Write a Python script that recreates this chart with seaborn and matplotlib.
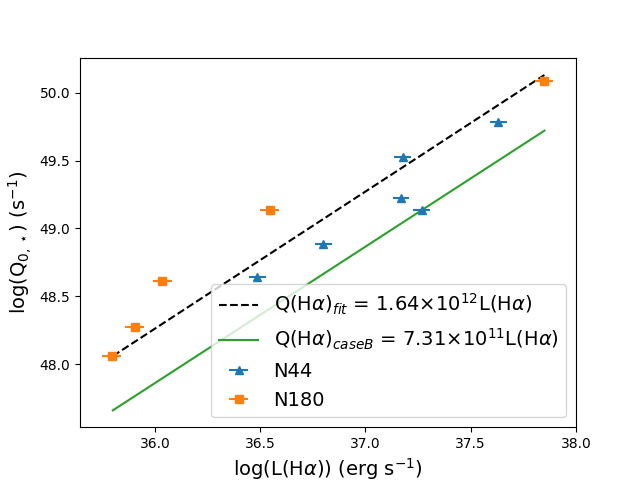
import matplotlib
matplotlib.use("Agg")
import matplotlib.pyplot as plt
import pandas as pd
import seaborn as sns

# N44 regions
n44_logL = [36.486, 36.80, 37.169, 37.177, 37.268, 37.631]
n44_logQ = [48.643, 48.882, 49.225, 49.528, 49.135, 49.783]
n44_xerr = [0.04, 0.04, 0.04, 0.04, 0.04, 0.04]

# N180 regions
n180_logL = [35.795, 35.905, 36.035, 36.546, 37.848]
n180_logQ = [48.06, 48.275, 48.61, 49.135, 50.083]
n180_xerr = [0.045, 0.045, 0.045, 0.045, 0.045]

# relation end points
fit_logL = [35.8, 37.85]
fit_logQ = [48.06, 50.13]
caseb_logL = [35.8, 37.85]
caseb_logQ = [47.66, 49.72]


def main():
    fig, ax = plt.subplots(figsize=(6.4, 4.8), dpi=100)

    fit = pd.DataFrame({'logL': fit_logL, 'logQ': fit_logQ})
    caseb = pd.DataFrame({'logL': caseb_logL, 'logQ': caseb_logQ})

    sns.lineplot(data=fit, x='logL', y='logQ', ax=ax, color='black',
                 linestyle='--',
                 label=r'Q(H$\alpha$)$_{fit}$ = 1.64$\times$10$^{12}$L(H$\alpha$)')
    sns.lineplot(data=caseb, x='logL', y='logQ', ax=ax, color='C2',
                 label=r'Q(H$\alpha$)$_{caseB}$ = 7.31$\times$10$^{11}$L(H$\alpha$)')

    ax.errorbar(n44_logL, n44_logQ, xerr=n44_xerr, fmt='^', color='C0',
                markersize=6, label='N44')
    ax.errorbar(n180_logL, n180_logQ, xerr=n180_xerr, fmt='s', color='C1',
                markersize=6, label='N180')

    ax.set_xlim(35.644, 38.0)
    ax.set_ylim(47.536, 50.258)
    ax.set_xlabel(r'log(L(H$\alpha$)) (erg s$^{-1}$)', fontsize=14)
    ax.set_ylabel(r'log(Q$_{0,\star}$) (s$^{-1}$)', fontsize=14)
    ax.legend(loc='lower right', fontsize=14)

    fig.savefig('out.png', dpi=100)


if __name__ == '__main__':
    main()
